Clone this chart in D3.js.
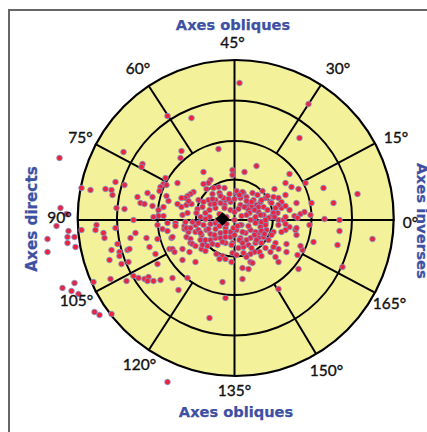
<!DOCTYPE html>
<html><head><meta charset="utf-8">
<script src="https://cdnjs.cloudflare.com/ajax/libs/d3/7.8.5/d3.min.js"></script>
<style>html,body{margin:0;padding:0;background:#fff;overflow:hidden}svg{display:block}</style>
</head><body><svg id="c" width="427" height="432"></svg>
<script>
const ringValues = [38.5, 77, 117.5, 158];
const axisLabels = [0, 15, 30, 45, 60, 75, 90, 105, 120, 135, 150, 165];
const labelOffsetX = [176, 161.5, 103.5, -2, -96.5, -154, -175, -158, -95, 0, 92, 155];
const labelOffsetY = [-4, 81, 150, 176, 150, 81, 1, -82, -146, -172, -152, -85];
const spokeAngles = [28, 57, 123, 152, 208, 237, 301, 332];
const meanVector = [-12, -1];

const outerLeftX = [-175,-153,-144,-129,-123,-122,-119,-110,-111,-67,-43,-53,-54,-92,-93,-174,-168,-118,-110,-16];
const outerLeftY = [60,30,28,29,28,23,36,33,66,102,100,67,60,54,51,10,4,10,9,69];

const upperLeftX = [-31,-69,-71,-68,-74,-75,-57,-24,-26,-31,-28,-21,-16,-10,-15,-22,-41,-44,-47,-49,-53,-87,-97,-82,-68,-66,-94,-90,-82,-71,-76,-71,-76,-81,-57,-53,-48,-43,-47,-52,-37,-38,-32,-24,-19,-29,-25,-10,-4,-4,-9,-19,-14,-34,-2,-2,-46,-36,-31,-26,-22,-11,-6];
const upperLeftY = [46,40,34,33,31,27,35,38,35,34,29,30,31,30,25,24,26,24,22,20,20,25,21,21,22,17,15,14,12,11,8,2,2,1,14,11,13,14,5,3,9,5,11,14,10,5,1,13,16,8,18,18,15,1,48,43,17,18,16,18,19,20,19];

const upperRightX = [0,6,2,9,12,18,23,28,39,31,36,44,26,19,14,22,29,33,39,47,24,17,21,29,36,44,49,26,31,22,10,55,51,57,64,71,89,40,51,62,77,99,33,8,2,27,17,47,44,51,37,55,41,43,39,60,66,70,76,51,63,90,40,24,17,12,6,14,34,5,74,65,123,105];
const upperRightY = [19,20,25,25,21,25,23,27,21,20,16,20,16,18,15,13,11,8,6,10,6,9,1,3,1,-2,-2,-4,-5,52,46,44,35,31,29,35,30,29,23,15,15,15,22,26,27,18,16,16,13,12,15,8,10,5,5,2,4,6,3,1,0,-1,1,11,11,11,13,8,0,135,114,80,24,-2];

const lowerLeftFarX = [-178,-166,-167,-160,-167,-159,-187,-187,-153,-138,-139,-131,-130,-119,-99,-104,-101,-88,-77,-63,-62,-117,-123,-115,-115,-107,-105,-85,-125,-113,-106,-79,-77,-65,-62,-60,-52,-45,-52,-39,-141,-124,-108,-101,-96,-90,-86,-87,-81,-74,-62,-47,-56,-25,-160,-172,-163,-156,-140,-135,-123,-67];
const lowerLeftFarY = [-8,-13,-19,-19,-25,-29,-21,-34,-12,-7,-12,-15,-20,-10,-15,-20,-2,-20,-21,-20,-19,-26,-32,-34,-38,-32,-31,-29,-42,-46,-44,-36,-46,-31,-31,-34,-31,-34,-42,-44,-64,-61,-63,-58,-60,-61,-59,-63,-63,-62,-60,-60,-72,-100,-65,-70,-73,-76,-94,-97,-96,-164];

const lowerLeftNearX = [-77,-72,-67,-67,-59,-59,-50,-46,-39,-48,-44,-44,-42,-39,-33,-29,-18,-12,-15,-9,-3,-2,-12,-50,-48,-36,-33,-28,-24,-19,-14,-9,-4,-34,-29,-24,-19,-14,-9,-4,-32,-27,-22,-17,-9,-2,-34,-39,-42,-36,-31,-24,-19,-44,-49,-9];
const lowerLeftNearY = [-7,-11,-13,-5,-5,-8,-11,-14,-14,-19,-21,-25,-26,-28,-31,-33,-36,-38,-41,-41,-44,-35,-64,-8,-10,-12,-17,-12,-16,-11,-15,-10,-14,-22,-22,-22,-20,-20,-19,-19,-27,-28,-26,-27,-25,-25,-15,-7,-4,-5,-7,-6,-5,-10,-4,-80];

const lowerRightX = [8,14,8,44,64,44,63,68,66,52,52,44,41,39,36,41,31,25,27,20,16,12,16,18,79,103,105,75,62,61,62,55,51,47,44,51,39,37,34,29,24,27,21,14,9,17,4,2,9,32,31,26,21,16,11,6,16,24,2,7,21,27,138,108];
const lowerRightY = [-50,-51,-61,-71,-51,-44,-37,-32,-28,-26,-34,-31,-25,-29,-34,-39,-30,-34,-38,-34,-36,-39,-44,-45,-24,-27,-13,-7,-17,-12,-10,-9,-12,-14,-7,-6,-14,-17,-22,-19,-15,-25,-25,-27,-29,-30,-30,-37,-35,-12,-7,-9,-14,-12,-15,-20,-20,-20,-12,-7,-5,-4,-21,-49];

const centreX = [0,0,7,6,-1,-8,-8,10,15,16,14,8,0,-9,-15,-17,-15,-10,-12,12,4,5,12,20,27,31,26,20,12,5,-5,-14,-20,-25,-29,-26,-20,-12,-3,8,22,30,3];
const centreY = [-2,6,2,-7,-10,-6,1,11,5,-2,-8,-14,-17,-14,-8,-2,4,10,2,3,9,-22,-22,-17,-13,-2,3,8,17,23,24,22,14,8,-1,-11,-17,-24,-27,-25,-22,-16,-8];

const cx = 234.5, cy = 218;
const x = d3.scaleLinear().domain([-160, 160]).range([cx - 160, cx + 160]);
const y = d3.scaleLinear().domain([-160, 160]).range([cy + 160, cy - 160]);
const r = d3.scaleLinear().domain([0, 160]).range([0, 160]);
const pol = (deg, v) => {
  const a = deg * Math.PI / 180;
  return [cx + r(v) * Math.cos(a), cy - r(v) * Math.sin(a)];
};

const svg = d3.select("#c");
svg.append("path").attr("d", "M9 432V10H427").attr("fill", "none").attr("stroke", "#666").attr("stroke-width", 2);

svg.append("circle").attr("cx", cx + 1.2).attr("cy", cy).attr("r", r(158))
  .attr("fill", "#f4f19b").attr("stroke", "#000").attr("stroke-width", 2.2);

svg.selectAll("circle.ring").data(ringValues.slice(0, 3)).join("circle").attr("class", "ring")
  .attr("cx", cx).attr("cy", cy).attr("r", d => r(d))
  .attr("fill", "none").attr("stroke", "#000").attr("stroke-width", 2);

svg.selectAll("line.spoke").data(spokeAngles).join("line").attr("class", "spoke")
  .attr("x1", d => pol(d, 77)[0]).attr("y1", d => pol(d, 77)[1])
  .attr("x2", d => pol(d, 158)[0]).attr("y2", d => pol(d, 158)[1])
  .attr("stroke", "#000").attr("stroke-width", 2);

svg.append("line").attr("x1", x(-157)).attr("x2", x(160)).attr("y1", y(-2)).attr("y2", y(-2)).attr("stroke", "#000").attr("stroke-width", 2);
svg.append("line").attr("x1", x(0)).attr("x2", x(0)).attr("y1", y(158)).attr("y2", y(-158)).attr("stroke", "#000").attr("stroke-width", 2);

const allX = [].concat(outerLeftX, upperLeftX, upperRightX, lowerLeftFarX, lowerLeftNearX, lowerRightX, centreX);
const allY = [].concat(outerLeftY, upperLeftY, upperRightY, lowerLeftFarY, lowerLeftNearY, lowerRightY, centreY);

svg.selectAll("circle.pt").data(allX.map((v, i) => [v, allY[i]])).join("circle").attr("class", "pt")
  .attr("cx", d => x(d[0])).attr("cy", d => y(d[1])).attr("r", 2.8)
  .attr("fill", "#ea2440").attr("stroke", "#7f93c6").attr("stroke-width", 0.8);

svg.append("path").attr("d", d3.symbol().type(d3.symbolSquare).size(92)())
  .attr("transform", `translate(${x(meanVector[0])},${y(meanVector[1])}) rotate(45)`).attr("fill", "#000");

svg.selectAll("text.ax").data(axisLabels).join("text").attr("class", "ax")
  .attr("x", (d, i) => x(labelOffsetX[i])).attr("y", (d, i) => y(labelOffsetY[i]))
  .attr("text-anchor", "middle").attr("dominant-baseline", "central")
  .attr("font-family", "Lato").attr("font-size", 15.5).attr("fill", "#111")
  .attr("stroke", "#111").attr("stroke-width", 0.35)
  .text(d => d + "°");

const titles = [
  ["Axes obliques", 233, 29.5, 0, 14.6],
  ["Axes obliques", 236, 417, 0, 14.6],
  ["Axes directs", 37, 219, -90, 15.2],
  ["Axes inverses", 416.5, 221, 90, 14.9]
];
svg.selectAll("text.tt").data(titles).join("text").attr("class", "tt")
  .attr("transform", d => `translate(${d[1]},${d[2]}) rotate(${d[3]})`)
  .attr("text-anchor", "middle")
  .attr("font-family", "'DejaVu Sans'").attr("font-size", d => d[4]).attr("font-weight", 700).attr("fill", "#3d50a3")
  .attr("stroke", "#3d50a3").attr("stroke-width", 0.25)
  .text(d => d[0]);
</script></body></html>
